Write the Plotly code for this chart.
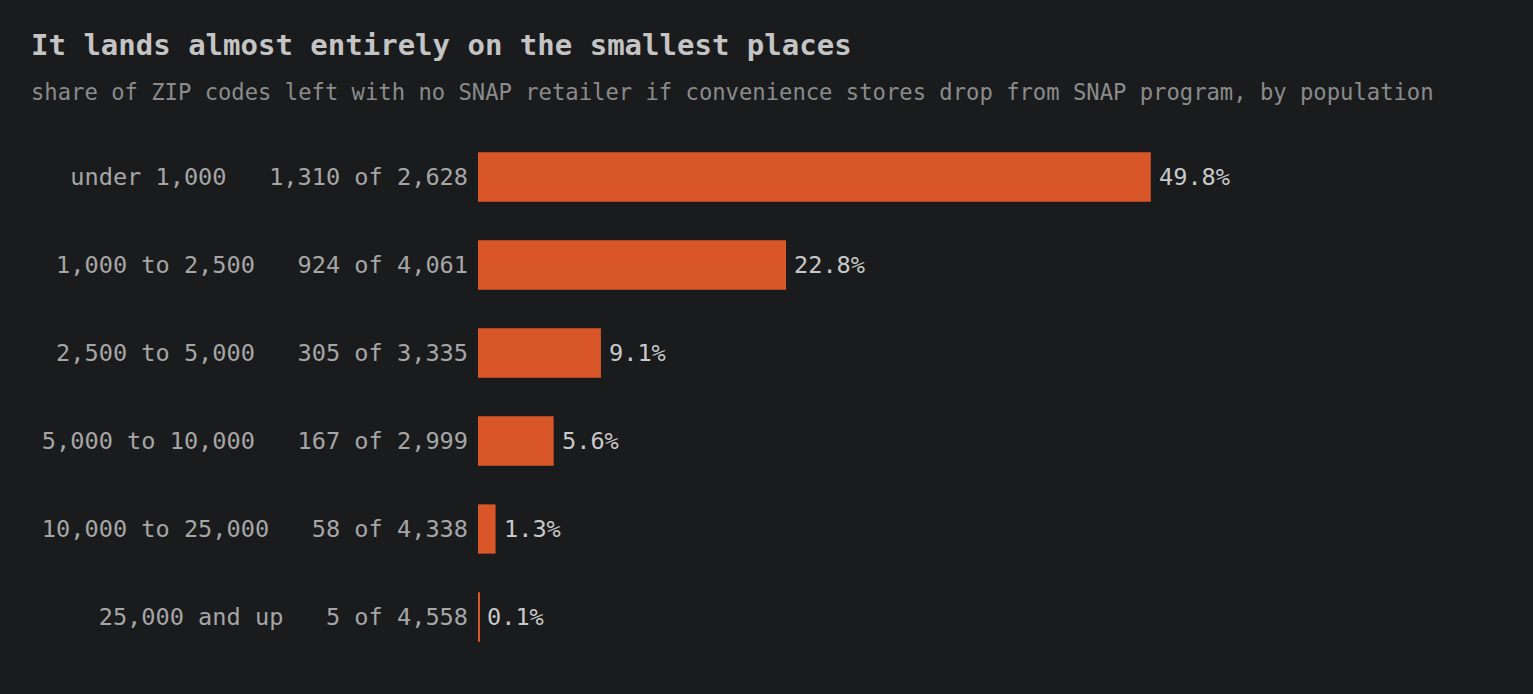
import plotly.graph_objects as go

# population bands, ZIPs that lose every SNAP retailer, total ZIPs in band
categories = [
    "under 1,000",
    "1,000 to 2,500",
    "2,500 to 5,000",
    "5,000 to 10,000",
    "10,000 to 25,000",
    "25,000 and up",
]
zips_lost = [1310, 924, 305, 167, 58, 5]
zips_total = [2628, 4061, 3335, 2999, 4338, 4558]
share_pct = [49.8, 22.8, 9.1, 5.6, 1.3, 0.1]

TITLE = "It lands almost entirely on the smallest places"
SUBTITLE = ("share of ZIP codes left with no SNAP retailer if convenience "
            "stores drop from SNAP program, by population")

BG = "#1a1b1d"
BAR = "#d95628"
FONT = "DejaVu Sans Mono"

# layout in pixels
W, H = 1533, 694
L, R, T, B = 478, 312, 133, 33
PW, PH = W - L - R, H - T - B

NB = "\u00a0"
labels = [
    f"{c}{NB * 3}{n:,} of {t:,}".replace(" ", NB)
    for c, n, t in zip(categories, zips_lost, zips_total)
]

fig = go.Figure()
fig.add_trace(
    go.Bar(
        x=share_pct,
        y=labels,
        orientation="h",
        marker=dict(color=BAR, line=dict(width=0)),
        hoverinfo="skip",
    )
)

for lab, v in zip(labels, share_pct):
    fig.add_annotation(
        x=v, y=lab, xref="x", yref="y",
        text=f"{v:.1f}%", showarrow=False,
        xanchor="left", xshift=6,
        font=dict(family=FONT, size=23.6, color="#c9c9c9"),
    )

def px_x(px):
    return (px - L) / PW

def px_y(py):
    return (H - B - py) / PH

fig.add_annotation(
    x=px_x(29), y=px_y(45), xref="paper", yref="paper",
    text=f"<b>{TITLE}</b>", showarrow=False,
    xanchor="left", yanchor="middle",
    font=dict(family=FONT, size=29, color="#c4c4c4"),
)
fig.add_annotation(
    x=px_x(29), y=px_y(92), xref="paper", yref="paper",
    text=SUBTITLE, showarrow=False,
    xanchor="left", yanchor="middle",
    font=dict(family=FONT, size=22.2, color="#8b8b8b"),
)

fig.update_layout(
    width=W,
    height=H,
    margin=dict(l=L, r=R, t=T, b=B, pad=0),
    paper_bgcolor=BG,
    plot_bgcolor=BG,
    bargap=0.44,
    showlegend=False,
    font=dict(family=FONT, color="#a6a6a6"),
    xaxis=dict(
        range=[0, PW / 13.51],
        visible=False,
        fixedrange=True,
    ),
    yaxis=dict(
        autorange="reversed",
        showgrid=False,
        zeroline=False,
        showline=False,
        ticks="",
        ticklabelstandoff=9,
        tickfont=dict(family=FONT, size=23.6, color="#a6a6a6"),
        fixedrange=True,
    ),
)

# drop the default page margin so the figure fills the window
fig.write_html(
    "out.html",
    config={"displayModeBar": False},
    post_script="document.body.style.margin='0';document.body.style.background='%s';" % BG,
)
